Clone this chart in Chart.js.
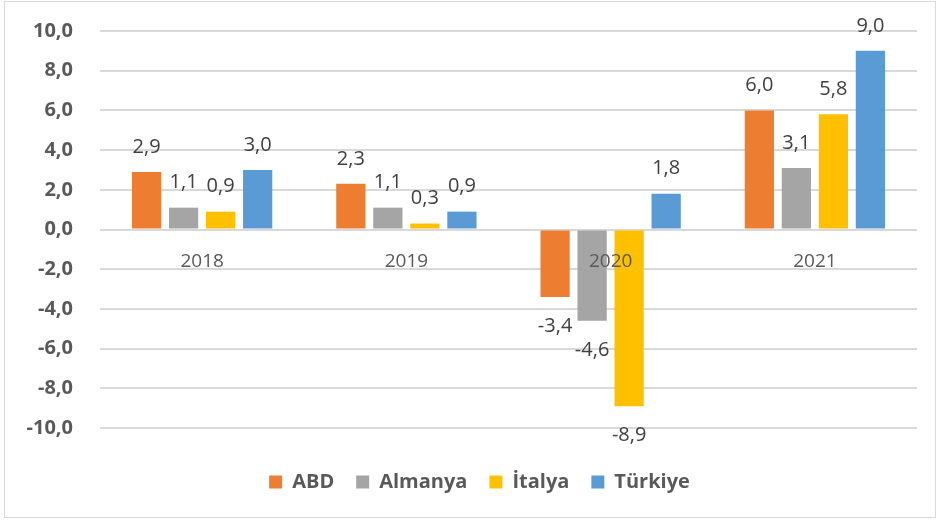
<!DOCTYPE html>
<html>
<head>
<meta charset="utf-8">
<script src="https://cdn.jsdelivr.net/npm/chart.js@4/dist/chart.umd.min.js"></script>
<style>
  body { margin: 0; background: #fff; }
</style>
</head>
<body>
<canvas id="chart" width="939" height="520"></canvas>
<script>
var years = ['2018', '2019', '2020', '2021'];
var abd = [2.9, 2.3, -3.4, 6.0];
var almanya = [1.1, 1.1, -4.6, 3.1];
var italya = [0.9, 0.3, -8.9, 5.8];
var turkiye = [3.0, 0.9, 1.8, 9.0];

var fmt = function (v) { return Number(v).toFixed(1).replace('.', ','); };
var FONT = "'Open Sans', 'Liberation Sans', sans-serif";

// outer frame like the excel chart border
var framePlugin = {
    id: 'frame',
    beforeDraw: function (chart) {
        var ctx = chart.ctx;
        ctx.save();
        ctx.fillStyle = '#fff';
        ctx.fillRect(0, 0, chart.width, chart.height);
        ctx.strokeStyle = '#d9d9d9';
        ctx.lineWidth = 1;
        ctx.strokeRect(4.5, 1.5, 931, 516);
        ctx.restore();
    },
    // legend sits a bit right of the canvas centre in the original
    afterLayout: function (chart) {
        if (chart.legend) {
            chart.legend.left += 21;
            chart.legend.right += 21;
        }
    }
};

// value labels above / below the bars
var valueLabels = {
    id: 'valueLabels',
    afterDatasetsDraw: function (chart) {
        var ctx = chart.ctx;
        ctx.save();
        ctx.font = '20px ' + FONT;
        ctx.fillStyle = '#404040';
        ctx.textAlign = 'center';
        ctx.textBaseline = 'middle';
        chart.data.datasets.forEach(function (ds, i) {
            var meta = chart.getDatasetMeta(i);
            meta.data.forEach(function (bar, j) {
                var v = ds.data[j];
                var y = v >= 0 ? bar.y - 25 : bar.y + 29;
                ctx.fillText(fmt(v), bar.x, y);
            });
        });
        ctx.restore();
    }
};

var ctx = document.getElementById('chart').getContext('2d');
var chart = new Chart(ctx, {
    type: 'bar',
    data: {
        labels: years,
        datasets: [
            { label: 'ABD', data: abd, backgroundColor: '#ED7D31' },
            { label: 'Almanya', data: almanya, backgroundColor: '#A5A5A5' },
            { label: 'İtalya', data: italya, backgroundColor: '#FFC000' },
            { label: 'Türkiye', data: turkiye, backgroundColor: '#5B9BD5' }
        ]
    },
    options: {
        responsive: false,
        animation: false,
        categoryPercentage: 0.725,
        barPercentage: 0.79,
        layout: { padding: { left: 0, right: 22, top: 31, bottom: 18 } },
        plugins: {
            tooltip: { enabled: false },
            legend: {
                position: 'bottom',
                labels: {
                    boxWidth: 13,
                    boxHeight: 13,
                    padding: 22,
                    color: '#595959',
                    font: { family: FONT, size: 20, weight: 'bold' }
                }
            }
        },
        scales: {
            x: {
                position: { y: 0 },
                grid: { display: false },
                border: { display: false },
                ticks: {
                    z: 1,
                    color: '#595959',
                    padding: 13,
                    font: { family: FONT, size: 19 }
                }
            },
            // empty strip between the plot and the legend
            gap: {
                type: 'category',
                position: 'bottom',
                grid: { display: false },
                border: { display: false },
                ticks: { display: false },
                afterFit: function (scale) { scale.height = 22; }
            },
            y: {
                min: -10,
                max: 10,
                afterFit: function (scale) {
                    scale.width = 100;
                    scale.paddingTop = 0;
                    scale.paddingBottom = 0;
                },
                grid: { color: '#d9d9d9', lineWidth: 2, drawTicks: false },
                border: { display: false },
                ticks: {
                    stepSize: 2,
                    padding: 27,
                    color: '#595959',
                    font: { family: FONT, size: 20, weight: 'bold' },
                    callback: function (v) { return fmt(v); }
                }
            }
        }
    },
    plugins: [framePlugin, valueLabels]
});
</script>
</body>
</html>
